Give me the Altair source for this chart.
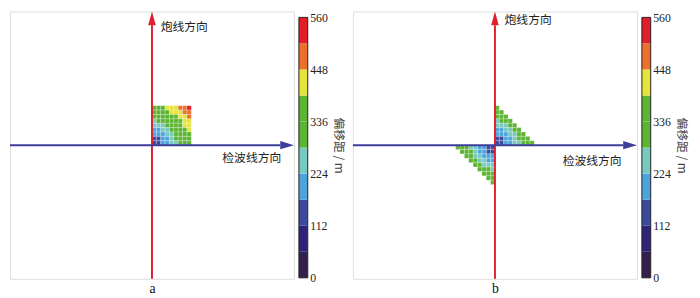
import altair as alt
import pandas as pd

# ---- colour classes of the offset (m) ----
class_edges = [0, 56, 112, 168, 224, 280, 336, 392, 448, 504, 560]
class_colors = ["#34204f", "#2e2378", "#3b4a9c", "#4ba4dc", "#78c9c0",
                "#5cb532", "#5cb532", "#e6e43c", "#ec6f2c", "#e31e2b"]
tick_values = [0, 112, 224, 336, 448, 560]

# ---- panel a: 9 x 9 block of bins (rows from top to bottom), offset in m ----
a_rows = [
    [369, 378, 390, 405, 422, 441, 462, 485, 509],
    [335, 345, 358, 374, 393, 413, 436, 460, 485],
    [301, 312, 326, 344, 364, 386, 410, 436, 462],
    [267, 280, 296, 315, 337, 361, 386, 413, 441],
    [234, 248, 266, 287, 311, 337, 364, 393, 422],
    [202, 218, 238, 262, 287, 315, 344, 374, 405],
    [170, 189, 212, 238, 266, 296, 326, 358, 390],
    [140, 163, 189, 218, 248, 280, 312, 345, 378],
    [113, 140, 170, 202, 234, 267, 301, 335, 369],
]

# ---- panel b: upper-right triangle (rows top -> bottom, from the shot line rightwards)
b_upper_rows = [
    [369],
    [335, 345],
    [301, 312, 326],
    [267, 280, 296, 315],
    [234, 248, 266, 287, 311],
    [202, 218, 238, 262, 287, 315],
    [170, 189, 212, 238, 266, 296, 326],
    [140, 163, 189, 218, 248, 280, 312, 345],
    [113, 140, 170, 202, 234, 267, 301, 335, 369],
]
# lower-left triangle (rows from the receiver line downwards, from the shot line leftwards)
b_lower_rows = [
    [113, 140, 170, 202, 234, 267, 301, 335, 369],
    [140, 163, 189, 218, 248, 280, 312, 345],
    [170, 189, 212, 238, 266, 296, 326],
    [202, 218, 238, 262, 287, 315],
    [234, 248, 266, 287, 311],
    [267, 280, 296, 315],
    [301, 312, 326],
    [335, 345],
    [369],
]

shot_label = "炮线方向"
recv_label = "检波线方向"
a_text_pos = [(2.0, 27.0), (16.1, -3.0)]
b_text_pos = [(2.2, 28.5), (15.5, -3.6)]

XD = [-32.5, 32.5]
YD = [-30.5, 30.5]
RED = "#e0202e"
BLUE = "#3d3d9a"
CJK = "Noto Sans CJK SC"
SERIF = "Liberation Serif"
PW, PH = 289, 272
HEAD = 14.0  # arrow-head length, px
CB_TOP, CB_BOT = 6, 1  # colour-bar inset inside its view, px


def cells_a():
    out = []
    for r, row in enumerate(a_rows):
        j = 8 - r
        for i, v in enumerate(row):
            out.append(dict(x0=i, x1=i + 1, y0=j, y1=j + 1, off=v))
    return pd.DataFrame(out)


def cells_b():
    out = []
    for r, row in enumerate(b_upper_rows):
        j = 8 - r
        for i, v in enumerate(row):
            out.append(dict(x0=i, x1=i + 1, y0=j, y1=j + 1, off=v))
    for j, row in enumerate(b_lower_rows):
        for i, v in enumerate(row):
            out.append(dict(x0=-(i + 1), x1=-i, y0=-(j + 1), y1=-j, off=v))
    return pd.DataFrame(out)


offset_scale = alt.Scale(type="threshold", domain=class_edges[1:-1], range=class_colors)


def panel(cells, text_pos, letter):
    xs = alt.Scale(domain=XD, nice=False, zero=False)
    ys = alt.Scale(domain=YD, nice=False, zero=False)
    xax = alt.Axis(title=letter, labels=False, ticks=False, domain=False, grid=False,
                   titleFont=SERIF, titleFontSize=14, titleFontWeight="normal",
                   titleColor="#111", titlePadding=3)
    ux = (XD[1] - XD[0]) / PW   # data units per px
    uy = (YD[1] - YD[0]) / PH

    rects = alt.Chart(cells).mark_rect(stroke="white", strokeWidth=0.5, strokeOpacity=0.5).encode(
        x=alt.X("x0:Q", scale=xs, axis=xax),
        x2="x1:Q",
        y=alt.Y("y0:Q", scale=ys, axis=None),
        y2="y1:Q",
        color=alt.Color("off:Q", scale=offset_scale, legend=None),
    )
    vline = alt.Chart(pd.DataFrame({"x": [0], "y": [YD[0]], "y2": [YD[1] - HEAD * uy]})).mark_rule(
        color=RED, strokeWidth=2).encode(
        x=alt.X("x:Q", scale=xs, axis=xax), y=alt.Y("y:Q", scale=ys, axis=None), y2="y2:Q")
    hline = alt.Chart(pd.DataFrame({"y": [0], "x": [XD[0]], "x2": [XD[1] - HEAD * ux]})).mark_rule(
        color=BLUE, strokeWidth=2).encode(
        y=alt.Y("y:Q", scale=ys, axis=None), x=alt.X("x:Q", scale=xs, axis=xax), x2="x2:Q")
    up_head = alt.Chart(pd.DataFrame({"x": [0], "y": [YD[1] - HEAD / 2 * uy]})).mark_point(
        shape="M0,-1L0.55,1L-0.55,1Z", size=HEAD * HEAD, filled=True, color=RED, opacity=1).encode(
        x=alt.X("x:Q", scale=xs, axis=xax), y=alt.Y("y:Q", scale=ys, axis=None))
    right_head = alt.Chart(pd.DataFrame({"x": [XD[1] - HEAD / 2 * ux], "y": [0]})).mark_point(
        shape="M1,0L-1,-0.6L-1,0.6Z", size=HEAD * HEAD, filled=True, color=BLUE, opacity=1).encode(
        x=alt.X("x:Q", scale=xs, axis=xax), y=alt.Y("y:Q", scale=ys, axis=None))
    tdf = pd.DataFrame({"t": [shot_label, recv_label],
                        "x": [p[0] for p in text_pos], "y": [p[1] for p in text_pos]})
    texts = alt.Chart(tdf).mark_text(align="left", baseline="middle", font=CJK,
                                     fontSize=12, color="#222").encode(
        x=alt.X("x:Q", scale=xs, axis=xax), y=alt.Y("y:Q", scale=ys, axis=None), text="t:N")
    return alt.layer(rects, vline, hline, up_head, right_head, texts).properties(
        width=PW, height=PH)


def colorbar():
    cb = pd.DataFrame({"lo": class_edges[:-1], "hi": class_edges[1:], "col": class_colors})
    px_per = (PH - CB_TOP - CB_BOT) / 560.0
    ys = alt.Scale(domain=[-CB_BOT / px_per, 560 + CB_TOP / px_per], nice=False, zero=False)
    yax = alt.Axis(orient="right", values=tick_values, ticks=False, domain=False, grid=False,
                   labelPadding=2, labelFont=SERIF, labelFontSize=12, labelColor="#222",
                   labelFlush=False, title="偏移距 / m", titleFont=CJK, titleFontSize=12,
                   titleFontWeight="normal", titleColor="#444", titlePadding=4)
    bars = alt.Chart(cb).mark_rect().encode(
        x=alt.value(0), x2=alt.value(9),
        y=alt.Y("lo:Q", scale=ys, axis=yax), y2="hi:Q",
        color=alt.Color("col:N", scale=None),
    )
    border = alt.Chart(pd.DataFrame({"lo": [0], "hi": [560]})).mark_rect(
        fillOpacity=0, stroke="#222", strokeWidth=1).encode(
        x=alt.value(0), x2=alt.value(9),
        y=alt.Y("lo:Q", scale=ys, axis=yax), y2="hi:Q")
    return alt.layer(bars, border).properties(
        width=9, height=PH, view=alt.ViewBackground(strokeOpacity=0))


left = alt.hconcat(panel(cells_a(), a_text_pos, "a"), colorbar(), spacing=3)
right = alt.hconcat(panel(cells_b(), b_text_pos, "b"), colorbar(), spacing=3)
chart = alt.hconcat(left, right, spacing=7).properties(
    padding={"left": 0, "top": 0, "right": 5, "bottom": 0}
).configure_view(stroke="#666666", strokeWidth=1.2).configure(background="white")

chart.save("out.html", embed_options={"renderer": "svg", "actions": False})
